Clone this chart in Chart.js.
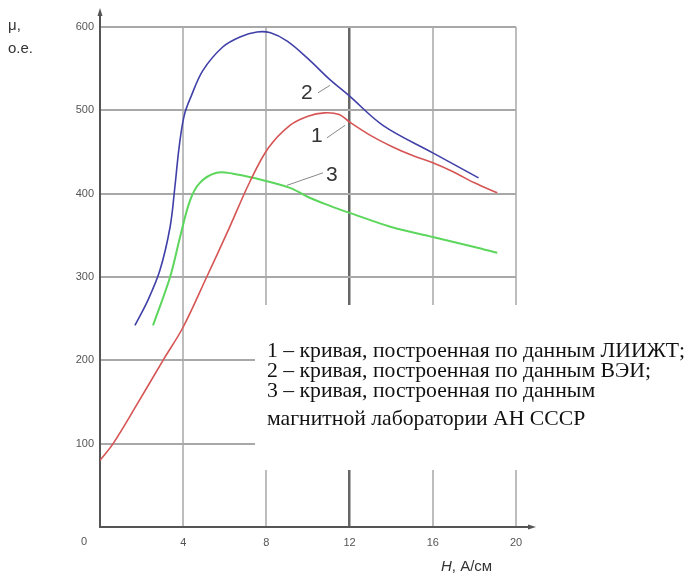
<!DOCTYPE html>
<html>
<head>
<meta charset="utf-8">
<script src="https://cdn.jsdelivr.net/npm/chart.js"></script>
<style>
  body { margin: 0; background: #fff; }
  #wrap { width: 691px; height: 580px; }
</style>
</head>
<body>
<div id="wrap"><canvas id="mu_chart" width="691" height="580"></canvas></div>
<script>
// curve 1 - ЛИИЖТ (red)
var curve1X = [0, 0.63, 1.8, 3.03, 4, 5.13, 6.2, 7.2, 8.1, 9.13, 10, 10.8, 11.5, 12, 13, 14, 15, 16, 17, 18, 19.1];
var curve1Y = [80, 100, 148, 200, 240, 300, 358, 414, 455, 482, 493, 497, 495, 486, 470, 457, 446, 437, 426, 413, 401];
// curve 2 - ВЭИ (blue)
var curve2X = [1.68, 2.3, 2.88, 3.37, 3.6, 3.8, 4.05, 4.4, 4.95, 5.9, 6.73, 7.55, 8.2, 9.0, 10, 11, 12, 13.6, 16, 18.2];
var curve2Y = [242, 272, 308, 360, 408, 455, 494, 518, 548, 576, 588, 594, 593, 583, 562, 538, 517, 482, 449, 419];
// curve 3 - магнитная лаборатория АН СССР (green)
var curve3X = [2.55, 3.37, 3.85, 4.33, 4.8, 5.6, 6.4, 7.36, 9.13, 10, 11, 12, 14, 16, 18, 19.1];
var curve3Y = [242, 300, 348, 392, 413, 425, 424, 419, 407, 396, 386, 377, 360, 348, 336, 329];

var xTicks = [0, 4, 8, 12, 16, 20];
var yTicks = [0, 100, 200, 300, 400, 500, 600];

// curve numbers and their leader lines (data units)
var curveNames = ['1', '2', '3'];
var nameX = [10.43, 9.95, 11.15];
var nameY = [469, 521, 422];
var leadFromX = [10.91, 10.48, 10.72];
var leadFromY = [467, 521, 425];
var leadToX = [11.78, 11.06, 8.99];
var leadToY = [482, 530, 410];

var noteLines = [
  '1 – кривая, построенная по данным ЛИИЖТ;',
  '2 – кривая, построенная по данным ВЭИ;',
  '3 – кривая, построенная по данным',
  'магнитной лаборатории АН СССР'
];

function toPoints(xs, ys) {
  var pts = [];
  for (var i = 0; i < xs.length; i++) {
    pts.push({x: xs[i], y: ys[i]});
  }
  return pts;
}

var extras = {
  id: 'extras',
  afterDraw: function(chart) {
    var ctx = chart.ctx;
    var area = chart.chartArea;
    var xs = chart.scales.x, ys = chart.scales.y;
    ctx.save();

    // axis arrows
    ctx.strokeStyle = '#555';
    ctx.fillStyle = '#555';
    ctx.lineWidth = 2;
    ctx.beginPath();
    ctx.moveTo(area.left, area.top);
    ctx.lineTo(area.left, area.top - 15);
    ctx.moveTo(area.right, area.bottom);
    ctx.lineTo(area.right + 16, area.bottom);
    ctx.stroke();
    ctx.beginPath();
    ctx.moveTo(area.left, area.top - 19);
    ctx.lineTo(area.left - 2.5, area.top - 11);
    ctx.lineTo(area.left + 2.5, area.top - 11);
    ctx.closePath();
    ctx.fill();
    ctx.beginPath();
    ctx.moveTo(area.right + 20, area.bottom);
    ctx.lineTo(area.right + 12, area.bottom - 2.5);
    ctx.lineTo(area.right + 12, area.bottom + 2.5);
    ctx.closePath();
    ctx.fill();

    // origin label
    ctx.fillStyle = '#555';
    ctx.font = '11px "Liberation Sans", Arial, sans-serif';
    ctx.textAlign = 'center';
    ctx.textBaseline = 'middle';
    ctx.fillText('0', area.left - 16, area.bottom + 15);

    // axis titles
    ctx.fillStyle = '#333';
    ctx.font = '15px "Liberation Sans", Arial, sans-serif';
    ctx.textAlign = 'left';
    ctx.textBaseline = 'alphabetic';
    ctx.fillText('μ,', 8, 30);
    ctx.fillText('о.е.', 8, 53);
    ctx.font = 'italic 15px "Liberation Sans", Arial, sans-serif';
    ctx.fillText('H', 441, 571);
    var hw = ctx.measureText('H').width;
    ctx.font = '15px "Liberation Sans", Arial, sans-serif';
    ctx.fillText(', А/см', 441 + hw, 571);

    // curve numbers
    ctx.strokeStyle = '#888';
    ctx.lineWidth = 1;
    ctx.fillStyle = '#333';
    ctx.font = '21px "Liberation Sans", Arial, sans-serif';
    ctx.textAlign = 'center';
    ctx.textBaseline = 'middle';
    for (var i = 0; i < curveNames.length; i++) {
      ctx.beginPath();
      ctx.moveTo(xs.getPixelForValue(leadFromX[i]), ys.getPixelForValue(leadFromY[i]));
      ctx.lineTo(xs.getPixelForValue(leadToX[i]), ys.getPixelForValue(leadToY[i]));
      ctx.stroke();
      ctx.fillText(curveNames[i], xs.getPixelForValue(nameX[i]), ys.getPixelForValue(nameY[i]));
    }

    // note box
    ctx.fillStyle = '#fff';
    ctx.fillRect(255, 305, 436, 165);
    ctx.fillStyle = '#111';
    ctx.font = '21.7px "Liberation Serif", "Times New Roman", serif';
    ctx.textAlign = 'left';
    ctx.textBaseline = 'alphabetic';
    var lineYs = [357, 377, 397, 425];
    for (var j = 0; j < noteLines.length; j++) {
      ctx.fillText(noteLines[j], 267, lineYs[j]);
    }
    ctx.restore();
  }
};

var chart = new Chart(document.getElementById("mu_chart").getContext("2d"), {
  type: 'scatter',
  data: {
    datasets: [{
      label: '1',
      data: toPoints(curve1X, curve1Y),
      borderColor: 'rgb(214, 84, 84)',
      borderWidth: 1.6
    }, {
      label: '2',
      data: toPoints(curve2X, curve2Y),
      borderColor: 'rgb(64, 64, 168)',
      borderWidth: 1.6
    }, {
      label: '3',
      data: toPoints(curve3X, curve3Y),
      borderColor: 'rgb(92, 214, 92)',
      borderWidth: 2
    }]
  },
  options: {
    responsive: false,
    animation: false,
    showLine: true,
    elements: {
      point: { radius: 0 },
      line: { tension: 0.35, fill: false }
    },
    layout: { padding: { left: 0, top: 27, right: 175, bottom: 0 } },
    plugins: { legend: { display: false }, tooltip: { enabled: false } },
    scales: {
      x: {
        type: 'linear',
        min: 0, max: 20,
        afterFit: function(s) { s.height = 53; },
        afterBuildTicks: function(s) { s.ticks = xTicks.map(function(v) { return {value: v}; }); },
        ticks: {
          padding: 9,
          color: '#555',
          font: { family: '"Liberation Sans", Arial, sans-serif', size: 11 },
          maxRotation: 0,
          callback: function(v) { return v === 0 ? '' : v; }
        },
        grid: {
          drawTicks: false,
          color: function(c) { return c.tick && c.tick.value === 12 ? '#666' : '#bdbdbd'; },
          lineWidth: function(c) { return c.tick && c.tick.value === 12 ? 2.5 : 2; }
        },
        border: { color: '#555', width: 2 }
      },
      y: {
        min: 0, max: 600,
        afterFit: function(s) { s.width = 100; },
        afterBuildTicks: function(s) { s.ticks = yTicks.map(function(v) { return {value: v}; }); },
        ticks: {
          padding: 6,
          color: '#555',
          font: { family: '"Liberation Sans", Arial, sans-serif', size: 11 },
          callback: function(v) { return v === 0 ? '' : v; }
        },
        grid: {
          drawTicks: false,
          color: '#a8a8a8',
          lineWidth: 2
        },
        border: { color: '#555', width: 2 }
      }
    }
  },
  plugins: [extras]
});
</script>
</body>
</html>
